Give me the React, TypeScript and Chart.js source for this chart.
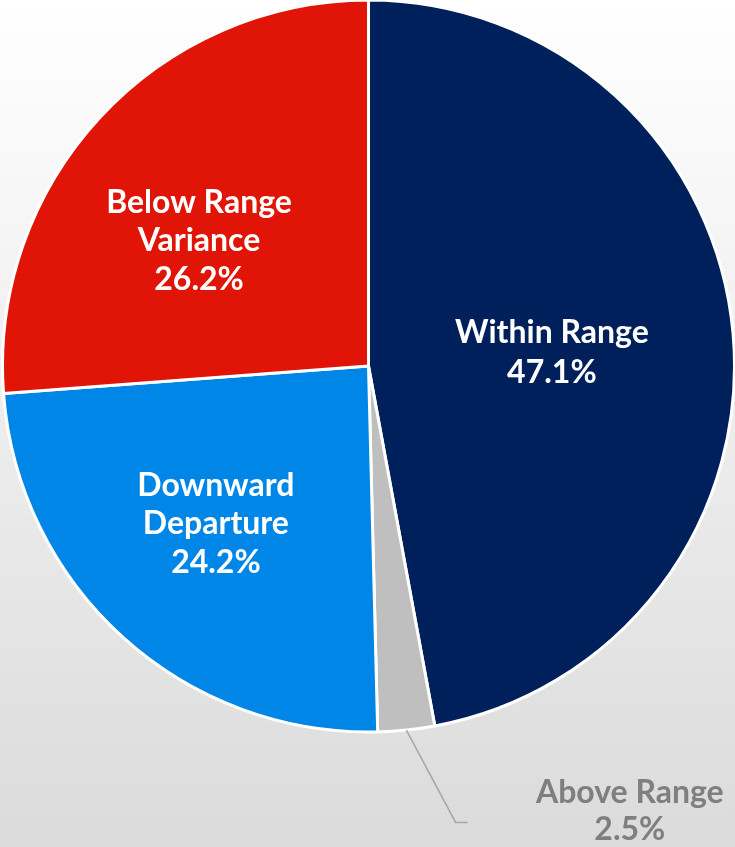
import React, { useEffect, useRef } from "react";
import { Chart, registerables } from "chart.js";

Chart.register(...registerables);

const categories = ["Within Range", "Above Range", "Downward Departure", "Below Range Variance"];
const values = [47.1, 2.5, 24.2, 26.2];
const colors = ["#00205C", "#BFBFBF", "#0086E6", "#E01507"];
const labelLines = [["Within Range"], ["Above Range"], ["Downward", "Departure"], ["Below Range", "Variance"]];
// label centre offsets in units of radius
const labelOffsets = [
  [0.501, -0.036],
  [0.714, 1.217],
  [-0.417, 0.432],
  [-0.463, -0.342],
];
const lineHeights = [40, 37, 38.5, 38.5];

const FONT = "bold 32px Lato";
const PIE_RADIUS = 366;

const bgPlugin = {
  id: "bg",
  beforeDraw(chart: any) {
    const { ctx, width, height } = chart;
    const g = ctx.createLinearGradient(0, 0, 0, height);
    g.addColorStop(0, "#ffffff");
    g.addColorStop(1, "#dbdbdb");
    ctx.save();
    ctx.fillStyle = g;
    ctx.fillRect(0, 0, width, height);
    ctx.restore();
  },
};

const labelPlugin = {
  id: "labels",
  afterDatasetsDraw(chart: any) {
    const { ctx } = chart;
    const meta = chart.getDatasetMeta(0);
    ctx.save();
    meta.data.forEach((arc: any, i: number) => {
      const { x, y, outerRadius: R, startAngle, endAngle } = arc.getProps(
        ["x", "y", "outerRadius", "startAngle", "endAngle"],
        true
      );
      const cx = x + labelOffsets[i][0] * R;
      const cy = y + labelOffsets[i][1] * R;
      const lines = [...labelLines[i], values[i].toFixed(1) + "%"];
      const outside = i === 1;
      if (outside) {
        const mid = (startAngle + endAngle) / 2;
        const sx = x + Math.cos(mid) * R;
        const sy = y + Math.sin(mid) * R;
        const ey = cy + 11;
        const ex = sx + (ey - sy) * 0.533;
        ctx.strokeStyle = "#a6a6a6";
        ctx.lineWidth = 1.5;
        ctx.beginPath();
        ctx.moveTo(sx, sy);
        ctx.lineTo(ex, ey);
        ctx.lineTo(ex + 12, ey);
        ctx.stroke();
      }
      ctx.font = FONT;
      ctx.fillStyle = outside ? "#7f7f7f" : "#ffffff";
      ctx.textAlign = "center";
      ctx.textBaseline = "middle";
      const lh = lineHeights[i];
      const top = cy - ((lines.length - 1) * lh) / 2;
      lines.forEach((t, k) => ctx.fillText(t, cx, top + k * lh));
    });
    ctx.restore();
  },
};

export default function App() {
  const ref = useRef<HTMLCanvasElement | null>(null);
  useEffect(() => {
    document.body.style.margin = "0";
    const chart = new Chart(ref.current!, {
      type: "pie",
      data: {
        labels: categories,
        datasets: [
          {
            data: values,
            backgroundColor: colors,
            borderColor: "#ffffff",
            borderWidth: 3,
            hoverOffset: 0,
            hoverBorderWidth: 3,
          },
        ],
      },
      options: {
        responsive: false,
        animation: false,
        events: [],
        radius: PIE_RADIUS,
        layout: { padding: { left: 2, right: 0, top: 0, bottom: 115 } },
        plugins: { legend: { display: false }, tooltip: { enabled: false } },
      } as any,
      plugins: [bgPlugin, labelPlugin],
    });
    return () => chart.destroy();
  }, []);
  return (
    <div style={{ width: 735, height: 847 }}>
      <canvas ref={ref} width={735} height={847} style={{ display: "block" }} />
    </div>
  );
}
